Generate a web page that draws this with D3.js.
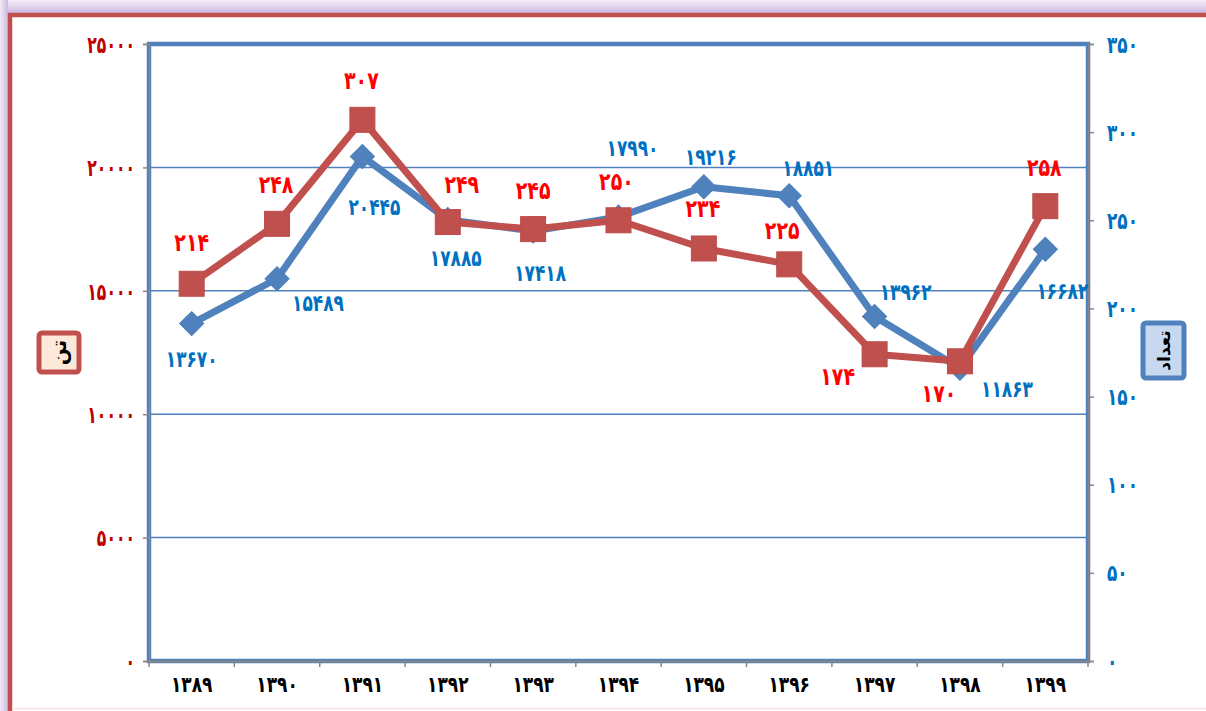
<!DOCTYPE html>
<html>
<head>
<meta charset="utf-8">
<script src="https://cdn.jsdelivr.net/npm/d3@7"></script>
<style>
  html, body { margin: 0; padding: 0; background: #fff; }
  svg { display: block; }
  text { font-family: "DejaVu Sans", sans-serif; font-weight: bold; }
</style>
</head>
<body>
<svg id="chart" width="1206" height="711"></svg>
<script>
// ---------- data ----------
const years = ["1389","1390","1391","1392","1393","1394","1395","1396","1397","1398","1399"];
const weightTons = [13670, 15489, 20445, 17885, 17418, 17990, 19216, 18851, 13962, 11863, 16682]; // blue, left axis
const countValues = [214, 248, 307, 249, 245, 250, 234, 225, 174, 170, 258];                     // red, right axis
const leftTicks = [0, 5000, 10000, 15000, 20000, 25000];
const rightTicks = [0, 50, 100, 150, 200, 250, 300, 350];
const leftTitle = "تن";
const rightTitle = "تعداد";

// label placement offsets (layout only)
const blueLabelOffsets = [[0,35],[41,24],[12,51],[8,38],[7,42],[14,-69],[7,-30],[19,-28],[31,-24],[47,21],[17,42]];
const redLabelOffsets  = [[0,-41],[-1,-39],[-1,-39],[14,-37],[0,-39],[-2,-39],[-1,-40],[-7,-34],[-37,22],[-21,32],[-1,-39]];

// ---------- helpers ----------
const fa = s => String(s).replace(/[0-9]/g, d => "۰۱۲۳۴۵۶۷۸۹"[+d]);

const svg = d3.select("#chart");
const W = 1206, H = 711;

// frame / glow
const defs = svg.append("defs");
const g1 = defs.append("linearGradient").attr("id","topGlow").attr("x1",0).attr("y1",0).attr("x2",0).attr("y2",1);
g1.append("stop").attr("offset","0%").attr("stop-color","#f3eef8");
g1.append("stop").attr("offset","100%").attr("stop-color","#cdb9e0");
const g2 = defs.append("linearGradient").attr("id","leftGlow").attr("x1",0).attr("y1",0).attr("x2",1).attr("y2",0);
g2.append("stop").attr("offset","0%").attr("stop-color","#f0e9f6");
g2.append("stop").attr("offset","100%").attr("stop-color","#cdb9e0");

svg.append("rect").attr("x",0).attr("y",0).attr("width",W).attr("height",H).attr("fill","#fff");
svg.append("rect").attr("x",0).attr("y",0).attr("width",W).attr("height",13).attr("fill","url(#topGlow)");
svg.append("rect").attr("x",0).attr("y",0).attr("width",8).attr("height",H).attr("fill","url(#leftGlow)");
svg.append("rect").attr("x",10).attr("y",15).attr("width",W+20).attr("height",H+20)
  .attr("fill","#fff").attr("stroke","#c0504d").attr("stroke-width",4.5);
svg.append("line").attr("x1",12).attr("x2",W).attr("y1",708.5).attr("y2",708.5).attr("stroke","#f6e0e0").attr("stroke-width",1.5);

// ---------- scales ----------
const plot = {left: 149, right: 1088, top: 44, bottom: 661};
const x = d3.scaleBand().domain(years).range([plot.left, plot.right]).padding(0);
const yL = d3.scaleLinear().domain([0, 25000]).range([plot.bottom, plot.top]);
const yR = d3.scaleLinear().domain([0, 350]).range([plot.bottom, plot.top]);
const cx = d => x(d) + x.bandwidth() / 2;

// gridlines
svg.append("g").selectAll("line").data(leftTicks.filter(t => t > 0 && t < 25000)).join("line")
  .attr("x1", plot.left).attr("x2", plot.right)
  .attr("y1", d => yL(d)).attr("y2", d => yL(d))
  .attr("stroke", "#4f81bd").attr("stroke-width", 1.5);

// plot area border
svg.append("rect").attr("x", plot.left).attr("y", plot.top)
  .attr("width", plot.right - plot.left).attr("height", plot.bottom - plot.top)
  .attr("fill", "none").attr("stroke", "#4f81bd").attr("stroke-width", 4.5);

// axes
const axisStyle = g => {
  g.select(".domain").attr("stroke", "#868686").attr("stroke-width", 1.5);
  g.selectAll(".tick line").attr("stroke", "#868686").attr("stroke-width", 1.5);
};
const SY = 1.4; // vertical stretch of the digit glyphs

const gL = svg.append("g").attr("transform", `translate(${plot.left},0)`)
  .call(d3.axisLeft(yL).tickValues(leftTicks).tickSize(6).tickPadding(14).tickFormat(fa));
axisStyle(gL);
gL.selectAll(".tick text").attr("fill", "#c00000").attr("font-size", 17)
  .attr("font-family", "DejaVu Sans").attr("font-weight", "bold")
  .attr("dy", null).attr("dominant-baseline", "central").attr("transform", `scale(0.92,${SY})`)
  .attr("x", -14 / 0.92);

const gR = svg.append("g").attr("transform", `translate(${plot.right},0)`)
  .call(d3.axisRight(yR).tickValues(rightTicks).tickSize(6).tickPadding(13).tickFormat(fa));
axisStyle(gR);
gR.selectAll(".tick text").attr("fill", "#0070c0").attr("font-size", 17)
  .attr("font-family", "DejaVu Sans").attr("font-weight", "bold")
  .attr("dy", null).attr("dominant-baseline", "central").attr("transform", `scale(1,${SY})`);

const gB = svg.append("g").attr("transform", `translate(0,${plot.bottom})`)
  .call(d3.axisBottom(x).tickSize(0).tickPadding(17).tickFormat(fa));
gB.select(".domain").attr("stroke", "#868686").attr("stroke-width", 2);
gB.selectAll(".tick text").attr("fill", "#000").attr("font-size", 17)
  .attr("font-family", "DejaVu Sans").attr("font-weight", "bold")
  .attr("dy", null).attr("dominant-baseline", "central")
  .attr("y", 24 / 1.3).attr("transform", "scale(1,1.3)");
// category boundary ticks
svg.append("g").selectAll("line").data(years.concat(["end"])).join("line")
  .attr("x1", (d, i) => plot.left + i * x.bandwidth()).attr("x2", (d, i) => plot.left + i * x.bandwidth())
  .attr("y1", plot.bottom).attr("y2", plot.bottom + 6)
  .attr("stroke", "#868686").attr("stroke-width", 1.5);

// ---------- series ----------
const blueLine = d3.line().x((d, i) => cx(years[i])).y(d => yL(d));
const redLine = d3.line().x((d, i) => cx(years[i])).y(d => yR(d));

svg.append("path").datum(weightTons).attr("d", blueLine)
  .attr("fill", "none").attr("stroke", "#4f81bd").attr("stroke-width", 7).attr("stroke-linejoin", "round");
svg.append("g").selectAll("rect").data(weightTons).join("rect")
  .attr("x", -8.5).attr("y", -8.5).attr("width", 17).attr("height", 17)
  .attr("transform", (d, i) => `translate(${cx(years[i])},${yL(d)}) rotate(45)`)
  .attr("fill", "#4f81bd").attr("stroke", "#4a7ebb").attr("stroke-width", 1);

svg.append("path").datum(countValues).attr("d", redLine)
  .attr("fill", "none").attr("stroke", "#c0504d").attr("stroke-width", 7).attr("stroke-linejoin", "round");
svg.append("g").selectAll("rect").data(countValues).join("rect")
  .attr("x", (d, i) => cx(years[i]) - 12.5).attr("y", d => yR(d) - 12.5)
  .attr("width", 25).attr("height", 25)
  .attr("fill", "#c0504d").attr("stroke", "#be4b48").attr("stroke-width", 1);

// data labels
svg.append("g").selectAll("text").data(weightTons).join("text")
  .attr("transform", (d, i) => `translate(${cx(years[i]) + blueLabelOffsets[i][0]},${yL(d) + blueLabelOffsets[i][1]}) scale(1,1.35)`)
  .attr("text-anchor", "middle").attr("dominant-baseline", "central")
  .attr("font-size", 17).attr("fill", "#0070c0").text(d => fa(d));

svg.append("g").selectAll("text").data(countValues).join("text")
  .attr("transform", (d, i) => `translate(${cx(years[i]) + redLabelOffsets[i][0]},${yR(d) + redLabelOffsets[i][1]}) scale(1,1.3)`)
  .attr("text-anchor", "middle").attr("dominant-baseline", "central")
  .attr("font-size", 19).attr("fill", "#ff0000").text(d => fa(d));

// ---------- axis title boxes ----------
svg.append("rect").attr("x", 39).attr("y", 333).attr("width", 40).attr("height", 39).attr("rx", 3)
  .attr("fill", "#fde9d9").attr("stroke", "#c0504d").attr("stroke-width", 5);
svg.append("text").attr("transform", "translate(59,352.5) rotate(-90)")
  .attr("text-anchor", "middle").attr("dominant-baseline", "central")
  .attr("font-size", 20).attr("fill", "#000").text(leftTitle);

svg.append("rect").attr("x", 1143).attr("y", 323).attr("width", 41).attr("height", 55).attr("rx", 3)
  .attr("fill", "#c6d9f1").attr("stroke", "#4f81bd").attr("stroke-width", 5);
svg.append("text").attr("transform", "translate(1163.5,350.5) rotate(-90)")
  .attr("text-anchor", "middle").attr("dominant-baseline", "central")
  .attr("font-size", 17).attr("fill", "#000").text(rightTitle);
</script>
</body>
</html>
